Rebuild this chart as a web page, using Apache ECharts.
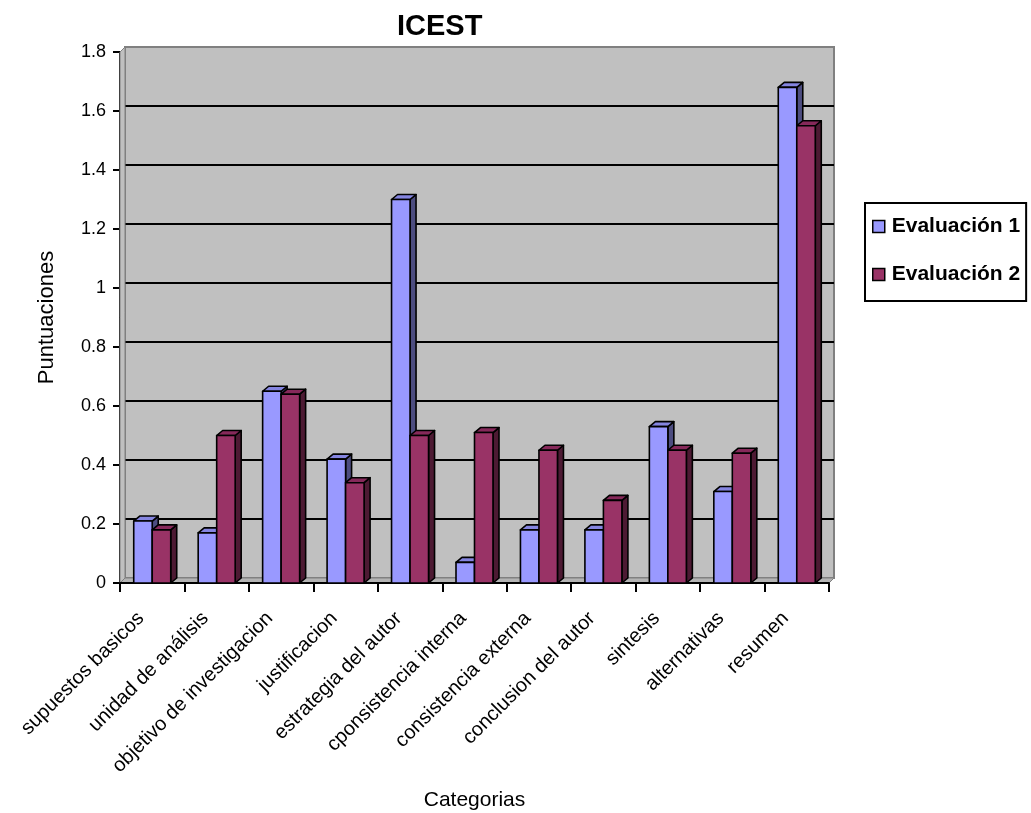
<!DOCTYPE html>
<html>
<head>
<meta charset="utf-8">
<script src="https://cdn.jsdelivr.net/npm/echarts@6/dist/echarts.min.js"></script>
<style>
  html, body { margin: 0; padding: 0; background: #ffffff; overflow: hidden; }
  #chart { width: 1031px; height: 813px; }
</style>
</head>
<body>
<div id="chart"></div>
<script>
// Categories and scores for the two evaluations
const categories = [
  'supuestos basicos', 'unidad de análisis', 'objetivo de investigacion',
  'justificacion', 'estrategia del autor', 'cponsistencia interna',
  'consistencia externa', 'conclusion del autor', 'sintesis',
  'alternativas', 'resumen'
];
const evaluacion1 = [0.21, 0.17, 0.65, 0.42, 1.30, 0.07, 0.18, 0.18, 0.53, 0.31, 1.68];
const evaluacion2 = [0.18, 0.50, 0.64, 0.34, 0.50, 0.51, 0.45, 0.28, 0.45, 0.44, 1.55];
const seriesNames = ['Evaluación 1', 'Evaluación 2'];

const FONT = 'Liberation Sans, Arial, sans-serif';
const DX = 6, DY = 5;        // 3D depth of each column
const WALL = 5;              // depth of the back wall

const palette = [
  { front: '#9999ff', top: '#8585e0', side: '#4d4d80' },
  { front: '#993366', top: '#86295a', side: '#4d1a33' }
];

// Draws a column as front face + top face + side face
function column3d(slot) {
  return function (params, api) {
    const idx = api.value(0);
    const v = api.value(1);
    const base = api.coord([idx, 0]);
    const top = api.coord([idx, v]);
    const band = api.size([1, 0])[0];
    const w = band * 0.287;
    const x0 = slot === 0 ? base[0] - w : base[0];
    const yT = top[1], yB = base[1];
    const c = palette[slot];
    const stroke = { stroke: '#000', lineWidth: 1.6, lineJoin: 'round' };
    return {
      type: 'group',
      children: [
        { type: 'polygon', shape: { points: [[x0 + w, yT], [x0 + w + DX, yT - DY], [x0 + w + DX, yB - DY], [x0 + w, yB]] },
          style: Object.assign({ fill: c.side }, stroke) },
        { type: 'polygon', shape: { points: [[x0, yT], [x0 + w, yT], [x0 + w + DX, yT - DY], [x0 + DX, yT - DY]] },
          style: Object.assign({ fill: c.top }, stroke) },
        { type: 'rect', shape: { x: x0, y: yT, width: w, height: yB - yT },
          style: Object.assign({ fill: c.front }, stroke) }
      ]
    };
  };
}

// Floor and left side wall of the 3D box
function walls(params, api) {
  const p0 = api.coord([0, 0]);
  const band = api.size([1, 0])[0];
  const xL = p0[0] - band / 2;
  const xR = xL + band * categories.length;
  const yB = p0[1];
  const yT = api.coord([0, 1.8])[1];
  return {
    type: 'group',
    children: [
      { type: 'polygon', shape: { points: [[xL, yB], [xR, yB], [xR + WALL, yB - WALL], [xL + WALL, yB - WALL]] },
        style: { fill: '#b4b4b4', stroke: '#808080', lineWidth: 1 } },
      { type: 'polygon', shape: { points: [[xL, yT], [xL + WALL, yT - WALL], [xL + WALL, yB - WALL], [xL, yB]] },
        style: { fill: '#c0c0c0', stroke: '#808080', lineWidth: 1 } }
    ]
  };
}

const chart = echarts.init(document.getElementById('chart'), null, { renderer: 'canvas' });

chart.setOption({
  backgroundColor: '#ffffff',
  animation: false,
  title: {
    text: 'ICEST',
    left: 392, top: 7,
    textStyle: { fontFamily: FONT, fontSize: 29, fontWeight: 'bold', color: '#000' }
  },
  legend: {
    orient: 'vertical',
    left: 865, top: 203,
    padding: [13, 6, 16, 7],
    itemGap: 27,
    itemWidth: 12, itemHeight: 12,
    icon: 'rect',
    borderColor: '#000', borderWidth: 2,
    backgroundColor: '#fff',
    textStyle: { fontFamily: FONT, fontSize: 21, fontWeight: 'bold', color: '#000', padding: [0, 0, 0, 2] },
    data: seriesNames.map((n, i) => ({ name: n, itemStyle: { color: palette[i].front, borderColor: '#000', borderWidth: 1.5 } }))
  },
  grid: [
    // front plane: axes, ticks and columns
    { left: 120, top: 52, width: 709, height: 531, outerBoundsMode: 'none', containLabel: false },
    // back wall: grey panel with the gridlines
    { left: 120 + WALL, top: 52 - WALL, width: 709, height: 531, show: true,
      outerBoundsMode: 'none', containLabel: false,
      backgroundColor: '#c0c0c0', borderColor: '#808080', borderWidth: 2 }
  ],
  xAxis: [
    { type: 'category', gridIndex: 0, data: categories,
      name: 'Categorias', nameLocation: 'middle', nameGap: 207,
      nameTextStyle: { fontFamily: FONT, fontSize: 21, color: '#000' },
      axisLine: { lineStyle: { color: '#000', width: 2 } },
      axisTick: { show: true, length: 9, lineStyle: { color: '#000', width: 2 } },
      axisLabel: { rotate: 45, fontFamily: FONT, fontSize: 20, color: '#000', margin: 21,
        padding: [0, 16, 0, 0], interval: 0 },
      z: 1 },
    { type: 'category', gridIndex: 1, data: categories, show: false }
  ],
  yAxis: [
    { type: 'value', gridIndex: 0, min: 0, max: 1.8, interval: 0.2,
      name: 'Puntuaciones', nameLocation: 'middle', nameGap: 62,
      nameTextStyle: { fontFamily: FONT, fontSize: 22, color: '#000' },
      axisLine: { show: true, lineStyle: { color: '#000', width: 2 } },
      axisTick: { show: true, length: 7, lineStyle: { color: '#000', width: 2 } },
      axisLabel: { fontFamily: FONT, fontSize: 18, color: '#000', margin: 14,
        formatter: v => String(Math.round(v * 10) / 10) },
      splitLine: { show: false } },
    { type: 'value', gridIndex: 1, min: 0, max: 1.8, interval: 0.2,
      axisLine: { show: false }, axisTick: { show: false }, axisLabel: { show: false },
      splitLine: { show: true, showMinLine: false, showMaxLine: false, lineStyle: { color: '#000', width: 2 } } }
  ],
  series: [
    { type: 'custom', name: '_walls', xAxisIndex: 0, yAxisIndex: 0, renderItem: walls,
      data: [[0, 0]], silent: true, z: 1 },
    { type: 'custom', name: seriesNames[0], xAxisIndex: 0, yAxisIndex: 0, z: 3,
      renderItem: column3d(0), itemStyle: { color: palette[0].front },
      data: evaluacion1.map((v, i) => [i, v]) },
    { type: 'custom', name: seriesNames[1], xAxisIndex: 0, yAxisIndex: 0, z: 4,
      renderItem: column3d(1), itemStyle: { color: palette[1].front },
      data: evaluacion2.map((v, i) => [i, v]) }
  ]
});
</script>
</body>
</html>
